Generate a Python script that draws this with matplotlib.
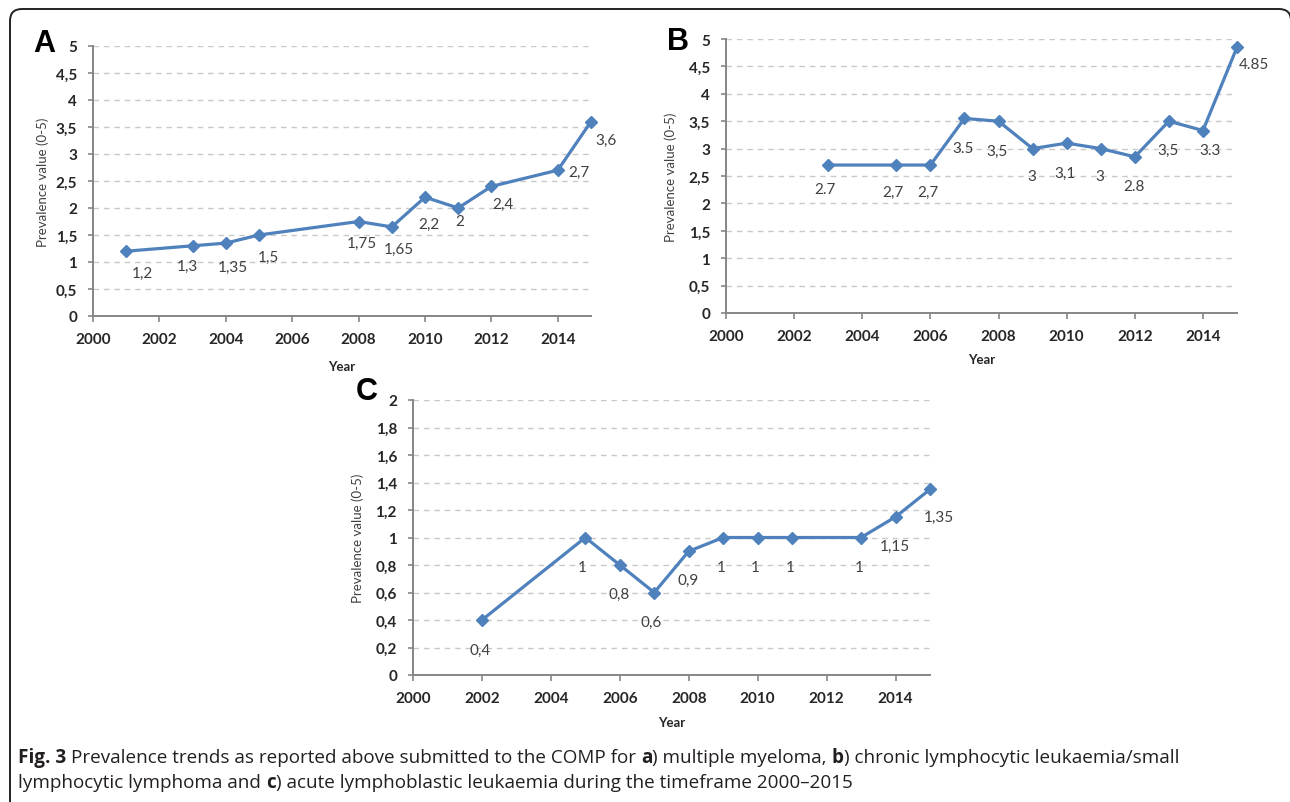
import matplotlib
matplotlib.use("Agg")
import matplotlib.pyplot as plt
from matplotlib.patches import FancyBboxPatch
from matplotlib.transforms import IdentityTransform

# ========== data ==========
years_a = [2001, 2003, 2004, 2005, 2008, 2009, 2010, 2011, 2012, 2014, 2015]
vals_a = [1.2, 1.3, 1.35, 1.5, 1.75, 1.65, 2.2, 2.0, 2.4, 2.7, 3.6]
labels_a = ["1,2", "1,3", "1,35", "1,5", "1,75", "1,65", "2,2", "2", "2,4", "2,7", "3,6"]

years_b = [2003, 2005, 2006, 2007, 2008, 2009, 2010, 2011, 2012, 2013, 2014, 2015]
vals_b = [2.7, 2.7, 2.7, 3.55, 3.5, 3.0, 3.1, 3.0, 2.85, 3.5, 3.33, 4.85]
labels_b = ["2.7", "2,7", "2,7", "3.5", "3,5", "3", "3,1", "3", "2.8", "3,5", "3.3", "4.85"]

years_c = [2002, 2005, 2006, 2007, 2008, 2009, 2010, 2011, 2013, 2014, 2015]
vals_c = [0.4, 1.0, 0.8, 0.6, 0.9, 1.0, 1.0, 1.0, 1.0, 1.15, 1.35]
labels_c = ["0,4", "1", "0,8", "0,6", "0,9", "1", "1", "1", "1", "1,15", "1,35"]

xticks = [2000, 2002, 2004, 2006, 2008, 2010, 2012, 2014]
yticks_ab = [0, 0.5, 1, 1.5, 2, 2.5, 3, 3.5, 4, 4.5, 5]
ylabels_ab = ["0", "0,5", "1", "1,5", "2", "2,5", "3", "3,5", "4", "4,5", "5"]
yticks_c = [0, 0.2, 0.4, 0.6, 0.8, 1.0, 1.2, 1.4, 1.6, 1.8, 2.0]
ylabels_c = ["0", "0,2", "0,4", "0,6", "0,8", "1", "1,2", "1,4", "1,6", "1,8", "2"]

caption_1 = [("Fig. 3 ", "bold"),
             ("Prevalence trends as reported above submitted to the COMP for ", "normal"),
             ("a", "bold"), (") multiple myeloma, ", "normal"),
             ("b", "bold"), (") chronic lymphocytic leukaemia/small", "normal")]
caption_2 = [("lymphocytic lymphoma and ", "normal"), ("c", "bold"),
             (") acute lymphoblastic leukaemia during the timeframe 2000\u20132015", "normal")]

# label offsets in pixels (dx right, dy down) -- style only
offs_a = [(16, 22), (-5, 20), (7, 24), (9, 22), (3, 21), (7, 22), (4, 27), (2, 13), (12, 17), (21, 2), (15, 18)]
offs_b = [(-3, 24), (-3, 27), (-2, 27), (-1, 30), (-2, 30), (-1, 27), (-2, 30), (-1, 27), (-1, 29), (-1, 29), (7, 19), (17, 17)]
offs_c = [(-2, 30), (-3, 29), (-1, 29), (-3, 29), (-1, 29), (-2, 29), (-2, 29), (-2, 29), (-2, 29), (-1, 29), (9, 28)]

W, H = 1290, 803
LINE_COL = "#4F81BD"
AX_COL = "#868686"
TXT_COL = "#262626"
CHART_FONT = ["Lato", "DejaVu Sans"]

plt.rcParams["font.family"] = CHART_FONT

fig = plt.figure(figsize=(W / 100, H / 100), dpi=100)
fig.patch.set_facecolor("white")


def add_panel(x0, x1, ytop, ybot, years, vals, labels, offs, yt, ytl, ymax,
              ylab_dx, year_dy):
    ax = fig.add_axes([x0 / W, 1 - ybot / H, (x1 - x0) / W, (ybot - ytop) / H])
    ax.set_xlim(2000, 2015)
    ax.set_ylim(0, ymax)
    for s in ["top", "right"]:
        ax.spines[s].set_visible(False)
    for s in ["left", "bottom"]:
        ax.spines[s].set_color(AX_COL)
        ax.spines[s].set_linewidth(1.4)
    ax.set_xticks(xticks)
    ax.set_xticklabels([str(t) for t in xticks])
    ax.set_yticks(yt)
    ax.set_yticklabels(ytl)
    ax.tick_params(axis="x", length=4.5, width=1.2, color=AX_COL, pad=7,
                   labelsize=11, labelcolor=TXT_COL)
    ax.tick_params(axis="y", length=3.5, width=1.2, color=AX_COL, pad=8,
                   labelsize=11, labelcolor=TXT_COL)
    for t in ax.get_xticklabels() + ax.get_yticklabels():
        t.set_fontweight("bold")
    ax.yaxis.grid(True, color="#c9c9c9", lw=1.0, dashes=(4, 3.5))
    ax.set_axisbelow(True)

    ax.plot(years, vals, color=LINE_COL, lw=2.3, marker="D", markersize=6.5,
            markerfacecolor=LINE_COL, markeredgecolor=LINE_COL, clip_on=False, zorder=3)
    for xv, yv, lb, (dx, dy) in zip(years, vals, labels, offs):
        ax.annotate(lb, (xv, yv), xytext=(dx * 0.72, -dy * 0.72), textcoords="offset points",
                    ha="center", va="center", fontsize=11, color="#404040", zorder=4)

    wpx = x1 - x0
    hpx = ybot - ytop
    ax.set_ylabel("Prevalence value (0-5)", fontsize=9.5, color="#404040", va="center")
    ax.yaxis.set_label_coords(-ylab_dx / wpx, 0.5)
    ax.set_xlabel("Year", fontsize=9.5, fontweight="bold", color=TXT_COL, va="center")
    ax.xaxis.set_label_coords(0.5, -year_dy / hpx)
    return ax


add_panel(93, 591, 47, 317, years_a, vals_a, labels_a, offs_a, yticks_ab, ylabels_ab, 5, 50, 50)
add_panel(726, 1237, 40, 314, years_b, vals_b, labels_b, offs_b, yticks_ab, ylabels_ab, 5, 55, 46)
add_panel(413, 930, 401, 676, years_c, vals_c, labels_c, offs_c, yticks_c, ylabels_c, 2, 55, 47)

# panel letters
for letter, (px, py) in zip(["A", "B", "C"], [(44, 44), (678, 42), (367, 392)]):
    fig.text(px / W, 1 - py / H, letter, fontsize=22, fontweight="bold",
             family=["Liberation Sans", "DejaVu Sans"], ha="center", va="center", color="black")

# rounded border round the whole figure
border = FancyBboxPatch((10, -40), 1281, H - 10 + 40, boxstyle="round,pad=0,rounding_size=12",
                        transform=IdentityTransform(), facecolor="none", edgecolor="#222222",
                        lw=1.4, figure=fig)
fig.patches.append(border)

# caption with bold fragments
renderer = fig.canvas.get_renderer()
CAP_FONT = ["Open Sans", "DejaVu Sans"]


def piece_width(txt, weight, size):
    t = fig.text(0, 0, txt + "|", fontsize=size, fontweight=weight, family=CAP_FONT)
    bar = fig.text(0, 0, "|", fontsize=size, fontweight=weight, family=CAP_FONT)
    w = t.get_window_extent(renderer).width - bar.get_window_extent(renderer).width
    t.remove()
    bar.remove()
    return w


base = 12.0
w1 = sum(piece_width(t, wt, base) for t, wt in caption_1)
cap_size = base * 1155 / w1


def draw_line(pieces, x_px, y_px):
    x = x_px
    for txt, wt in pieces:
        fig.text(x / W, 1 - y_px / H, txt, fontsize=cap_size, fontweight=wt, family=CAP_FONT,
                 ha="left", va="center", color="#231f20")
        x += piece_width(txt, wt, cap_size)


draw_line(caption_1, 18, 758)
draw_line(caption_2, 18, 783)

fig.savefig("out.png", dpi=100, facecolor="white")
